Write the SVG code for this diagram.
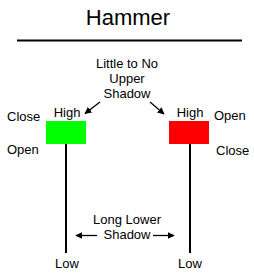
<svg xmlns="http://www.w3.org/2000/svg" width="254" height="279" viewBox="0 0 254 279">
<style>
text{font-family:"Liberation Sans",Arial,sans-serif;font-size:13px;fill:#000}
.t{font-size:22px}
.m{text-anchor:middle}
.w{stroke:#000;stroke-width:2}
.a{stroke:#000;stroke-width:1.3;fill:none;marker-end:url(#ah)}
</style>
<defs>
<marker id="ah" viewBox="0 0 10 10" refX="9" refY="5" markerWidth="7" markerHeight="7" markerUnits="userSpaceOnUse" orient="auto">
<path d="M0,0L10,5L0,10z" fill="#000"/>
</marker>
</defs>
<rect width="254" height="279" fill="#fff"/>
<g id="title">
<text class="t m" x="128" y="25">Hammer</text>
<line x1="17" y1="40.5" x2="242" y2="40.5" stroke="#000" stroke-width="2"/>
</g>
<g id="upper-label">
<text class="m" x="127" y="68">Little to No</text>
<text class="m" x="127" y="83">Upper</text>
<text class="m" x="127" y="98">Shadow</text>
</g>
<g id="green-candle">
<line class="w" x1="66" y1="144" x2="66" y2="253"/>
<rect x="46" y="121" width="40" height="23" fill="#00ff00"/>
<text class="m" x="67" y="117">High</text>
<text x="7" y="121">Close</text>
<text x="7" y="154">Open</text>
<text class="m" x="67" y="268">Low</text>
</g>
<g id="red-candle">
<line class="w" x1="190" y1="144" x2="190" y2="253"/>
<rect x="169" y="121" width="40" height="23" fill="#ff0000"/>
<text class="m" x="190" y="117">High</text>
<text x="214" y="120">Open</text>
<text x="216" y="155">Close</text>
<text class="m" x="190" y="268">Low</text>
</g>
<g id="lower-label">
<text class="m" x="127" y="224">Long Lower</text>
<text class="m" x="127" y="239">Shadow</text>
</g>
<g id="connectors">
<line class="a" x1="100" y1="102" x2="85" y2="113.5"/>
<line class="a" x1="150" y1="102" x2="164" y2="114"/>
<line class="a" x1="97" y1="235.5" x2="76" y2="235.5"/>
<line class="a" x1="153" y1="235.5" x2="174" y2="235.5"/>
</g>
</svg>
